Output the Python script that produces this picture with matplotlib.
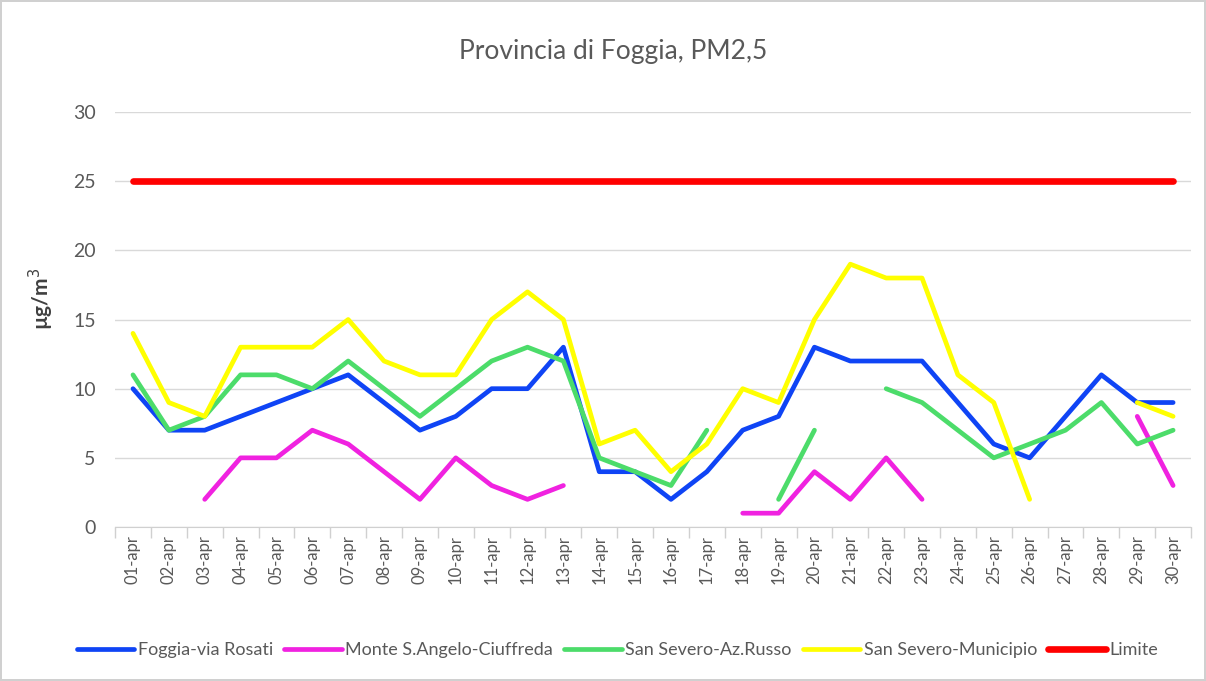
import matplotlib
matplotlib.use('Agg')
import matplotlib.pyplot as plt
import matplotlib.ticker as tkr
import numpy as np

nan = np.nan

days = ["01-apr", "02-apr", "03-apr", "04-apr", "05-apr", "06-apr", "07-apr", "08-apr",
        "09-apr", "10-apr", "11-apr", "12-apr", "13-apr", "14-apr", "15-apr", "16-apr",
        "17-apr", "18-apr", "19-apr", "20-apr", "21-apr", "22-apr", "23-apr", "24-apr",
        "25-apr", "26-apr", "27-apr", "28-apr", "29-apr", "30-apr"]

foggia = [10, 7, 7, 8, 9, 10, 11, 9, 7, 8, 10, 10, 13, 4, 4, 2, 4, 7, 8, 13,
          12, 12, 12, 9, 6, 5, 8, 11, 9, 9]
monte = [nan, nan, 2, 5, 5, 7, 6, 4, 2, 5, 3, 2, 3, nan, nan, nan, nan, 1, 1, 4,
         2, 5, 2, nan, nan, nan, nan, nan, 8, 3]
russo = [11, 7, 8, 11, 11, 10, 12, 10, 8, 10, 12, 13, 12, 5, 4, 3, 7, nan, 2, 7,
         nan, 10, 9, 7, 5, 6, 7, 9, 6, 7]
municipio = [14, 9, 8, 13, 13, 13, 15, 12, 11, 11, 15, 17, 15, 6, 7, 4, 6, 10, 9, 15,
             19, 18, 18, 11, 9, 2, nan, nan, 9, 8]
limite = [25] * 30

series = [
    ("Foggia-via Rosati", foggia, "#0f44f5", 3.4),
    ("Monte S.Angelo-Ciuffreda", monte, "#f022e0", 3.4),
    ("San Severo-Az.Russo", russo, "#4cdc6a", 3.4),
    ("San Severo-Municipio", municipio, "#ffff00", 3.4),
    ("Limite", limite, "#ff0000", 4.8),
]

plt.rcParams['font.family'] = ['Liberation Sans Narrow', 'Lato', 'DejaVu Sans']
grey = "#595959"

fig = plt.figure(figsize=(12.06, 6.81), dpi=100)
fig.patch.set_edgecolor("#d0d0d0")
fig.patch.set_linewidth(1.5)
ax = fig.add_axes([0.0954, 0.2261, 0.8922, 0.6094])

x = np.arange(len(days))
for name, vals, col, lw in series:
    ax.plot(x, np.array(vals, dtype=float), color=col, lw=lw, label=name,
            solid_capstyle='round', solid_joinstyle='round')

ax.set_xlim(-0.5, len(days) - 0.5)
ax.set_ylim(0, 30)
ax.set_yticks(np.arange(0, 31, 5))
ax.set_xticks(x)
ax.set_xticklabels(days, rotation=90, fontsize=12, color=grey)
ax.xaxis.set_minor_locator(tkr.FixedLocator(np.arange(-0.5, len(days), 1)))
ax.tick_params(axis='x', which='major', length=0, pad=6)
ax.tick_params(axis='x', which='minor', length=8, color="#d0d0d0", width=1)
ax.tick_params(axis='y', length=0, labelsize=14, labelcolor=grey, pad=14)
ax.grid(axis='y', color="#d9d9d9", lw=1)
ax.set_axisbelow(True)
for s in ['top', 'right', 'left']:
    ax.spines[s].set_visible(False)
ax.spines['bottom'].set_color("#d0d0d0")

ax.set_ylabel("µg/m$^3$", fontsize=15, fontweight='bold', color="#404040")
ax.yaxis.set_label_coords(-0.055, 0.55)

fig.text(0.508, 0.925, "Provincia di Foggia, PM2,5", ha='center', va='center',
         fontsize=19, color=grey)

fig.legend(loc='center', bbox_to_anchor=(0.512, 0.045), ncol=5, frameon=False,
           fontsize=13, handlelength=3.2, handletextpad=0.2, columnspacing=0.6,
           labelcolor=grey)

plt.savefig("out.png", dpi=100)
plt.close()
